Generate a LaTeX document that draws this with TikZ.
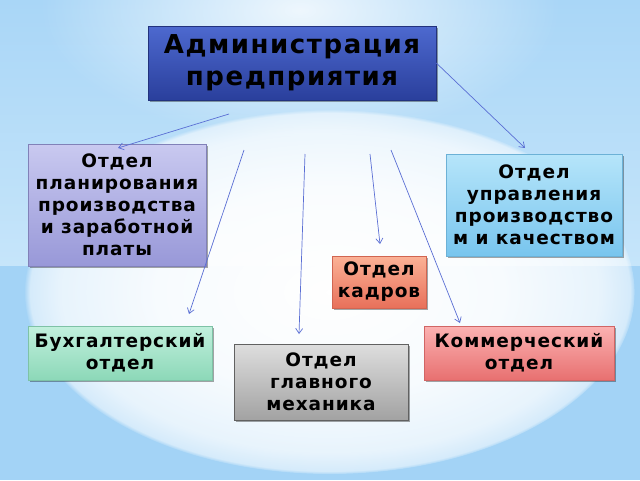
\documentclass[tikz,border=0pt]{standalone}
\usepackage{fontspec}
\setmainfont{DejaVu Sans}
\usetikzlibrary{arrows.meta,shadows,fadings}
\definecolor{bgblue}{HTML}{A3D3F6}
\definecolor{bgtop}{HTML}{A9D6F7}
\definecolor{bgband}{HTML}{C6E5FA}
\definecolor{arrowblue}{HTML}{5A6ED4}
\definecolor{adm1}{HTML}{4D69CF}
\definecolor{adm2}{HTML}{2A3F9C}
\definecolor{pl1}{HTML}{C9C9F0}
\definecolor{pl2}{HTML}{9898D8}
\definecolor{ct1}{HTML}{B6E5FA}
\definecolor{ct2}{HTML}{78C5EE}
\definecolor{kd1}{HTML}{FBB296}
\definecolor{kd2}{HTML}{E8705A}
\definecolor{bu1}{HTML}{C2F0DD}
\definecolor{bu2}{HTML}{8CD8B8}
\definecolor{me1}{HTML}{DEDEDE}
\definecolor{me2}{HTML}{A2A2A2}
\definecolor{ko1}{HTML}{FBB2B2}
\definecolor{ko2}{HTML}{E87070}
\pgfdeclareradialshading{glowsh}{\pgfpointorigin}{color(0bp)=(white); color(14bp)=(white!92!black); color(22bp)=(white!75!black); color(24.5bp)=(white!55!black); color(25bp)=(black); color(50bp)=(black)}
\pgfdeclarefading{glowfade}{\pgfuseshading{glowsh}}
\pgfdeclareradialshading{softsh}{\pgfpointorigin}{color(0bp)=(white!80!black); color(25bp)=(black); color(50bp)=(black)}
\pgfdeclarefading{softfade}{\pgfuseshading{softsh}}
\begin{document}
\begin{tikzpicture}[x=1pt,y=-1pt,
  box/.style={line width=0.6pt, align=center, inner sep=2pt,
    font=\bfseries\fontsize{18.5}{22}\selectfont\addfontfeature{LetterSpace=5}, text=black,
    drop shadow={shadow xshift=1.5pt, shadow yshift=-2pt, opacity=0.35, fill=black}},
  conn/.style={draw=arrowblue, line width=0.7pt, -{Straight Barb[length=5pt,width=7pt]}}]
\useasboundingbox (0,0) rectangle (640,480);
% background
\fill[bgblue] (0,0) rectangle (640,480);
\shade[top color=bgtop, bottom color=bgband] (0,0) rectangle (640,265);
\fill[white, path fading=softfade, fit fading=true] (300,10) ellipse [x radius=260, y radius=130];
\fill[white, path fading=glowfade, fit fading=true] (330,292) ellipse [x radius=305, y radius=182];
% boxes
\node[box, top color=adm1, bottom color=adm2, draw=adm2!80!black,
  minimum width=288pt, minimum height=74pt,
  font=\bfseries\fontsize{26}{32}\selectfont\addfontfeature{LetterSpace=6}] (adm) at (292,63) {Администрация\\предприятия};
\node[box, top color=pl1, bottom color=pl2, draw=pl2!85!black,
  minimum width=178pt, minimum height=122pt] (plan) at (117,205)
  {Отдел\\планирования\\производства\\и заработной\\платы};
\node[box, top color=ct1, bottom color=ct2, draw=ct2!90!black,
  minimum width=176pt, minimum height=102pt] (ctrl) at (534,205)
  {Отдел\\управления\\производство\\м и качеством};
\node[box, top color=kd1, bottom color=kd2, draw=kd2!90!black,
  minimum width=94pt, minimum height=52pt] (kadr) at (379,282)
  {Отдел\\кадров};
\node[box, top color=bu1, bottom color=bu2, draw=bu2!90!black,
  minimum width=184pt, minimum height=54pt] (buh) at (120,353)
  {Бухгалтерский\\отдел};
\node[box, top color=me1, bottom color=me2, draw=me2!60!black,
  minimum width=174pt, minimum height=76pt] (mech) at (321,382)
  {Отдел\\главного\\механика};
\node[box, top color=ko1, bottom color=ko2, draw=ko2!90!black,
  minimum width=190pt, minimum height=54pt] (kom) at (519,353)
  {Коммерческий\\отдел};
% connector ends
\coordinate (s1) at (229,114); \coordinate (e1) at (118,148);
\coordinate (e2) at (525,148);
\coordinate (s3) at (244,150); \coordinate (e3) at (189,314);
\coordinate (s4) at (305,154); \coordinate (e4) at (299,334);
\coordinate (s5) at (370,154); \coordinate (e5) at (380,244);
\coordinate (s6) at (391,150); \coordinate (e6) at (460,323);
\draw[conn] (s1) -- (e1);
\draw[conn] (adm.east) -- (e2);
\draw[conn] (s3) -- (e3);
\draw[conn] (s4) -- (e4);
\draw[conn] (s5) -- (e5);
\draw[conn] (s6) -- (e6);
\end{tikzpicture}
\end{document}
